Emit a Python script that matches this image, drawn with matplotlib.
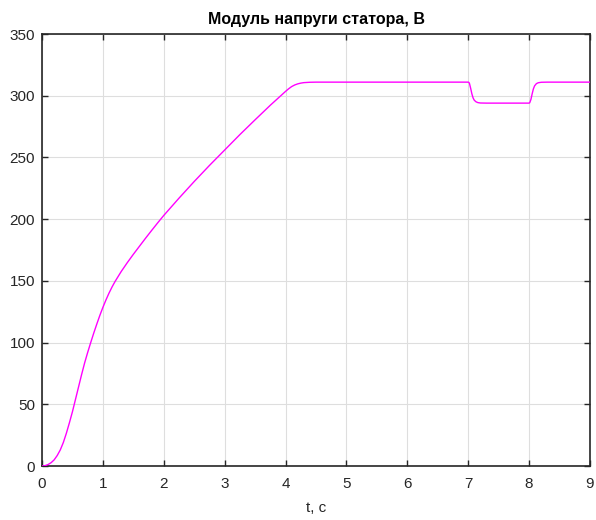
import matplotlib
matplotlib.use("Agg")
import matplotlib.pyplot as plt

t = [0.0, 0.05, 0.1, 0.15, 0.2, 0.25, 0.3, 0.35, 0.4, 0.45, 0.5, 0.55, 0.6, 0.65, 0.7, 0.75,
     0.8, 0.85, 0.9, 0.95, 1.0, 1.05, 1.1, 1.15, 1.2, 1.3, 1.4, 1.5, 1.6, 1.7, 1.8, 1.9,
     2.0, 2.25, 2.5, 2.75, 3.0, 3.25, 3.5, 3.75, 4.0, 4.05, 4.1, 4.15, 4.2, 4.25, 4.3, 4.4, 4.5,
     5.0, 6.0, 7.0, 7.01, 7.02, 7.04, 7.06, 7.08, 7.1, 7.13, 7.16, 7.2, 7.3, 7.5, 8.0,
     8.01, 8.03, 8.05, 8.07, 8.09, 8.12, 8.15, 8.2, 8.3, 9.0]
u = [0.0, 0.3, 1.2, 2.7, 5.0, 8.5, 13.0, 19.0, 26.5, 35.0, 44.0, 54.0, 64.0, 74.0, 83.5, 92.0,
     100.0, 107.7, 115.0, 122.0, 128.5, 134.5, 140.0, 145.0, 149.5, 157.5, 164.7, 171.5, 178.0, 184.5, 190.8, 197.0,
     203.0, 217.0, 230.5, 243.5, 256.0, 268.5, 280.5, 292.3, 303.5, 305.6, 307.4, 308.7, 309.6, 310.2, 310.6, 310.9, 311.0,
     311.0, 311.0, 311.0, 310.8, 310.0, 306.0, 301.5, 298.2, 296.3, 295.0, 294.4, 294.1, 294.0, 294.0, 294.0,
     294.3, 297.0, 301.5, 305.5, 308.0, 309.8, 310.5, 310.9, 311.0, 311.0]

xticks = [0, 1, 2, 3, 4, 5, 6, 7, 8, 9]
yticks = [0, 50, 100, 150, 200, 250, 300, 350]

plt.rcParams['font.family'] = ['Liberation Sans', 'DejaVu Sans']

fig = plt.figure(figsize=(5.96, 5.2), dpi=100)
ax = fig.add_axes([42/596, 54/520, 548/596, 432/520])

ax.plot(t, u, color='#FF00FF', linewidth=1.0, antialiased=True, zorder=3)

ax.set_xlim(0, 9)
ax.set_ylim(0, 350)
ax.set_xticks(xticks)
ax.set_yticks(yticks)
ax.grid(True, color='#DEDEDE', linewidth=0.8)
ax.set_axisbelow(True)
ax.tick_params(direction='in', top=True, right=True, length=4, width=1.0,
               labelsize=11, colors='#262626')
ax.tick_params(axis='y', pad=5)
ax.tick_params(axis='x', pad=8)
for s in ax.spines.values():
    s.set_color('#262626')
    s.set_linewidth(1.2)

ax.set_title('Модуль напруги статора, В', fontsize=11.5, fontweight='bold', pad=7)
ax.set_xlabel('t, c', fontsize=11, color='#262626', labelpad=7)

fig.savefig('out.png', dpi=100)
